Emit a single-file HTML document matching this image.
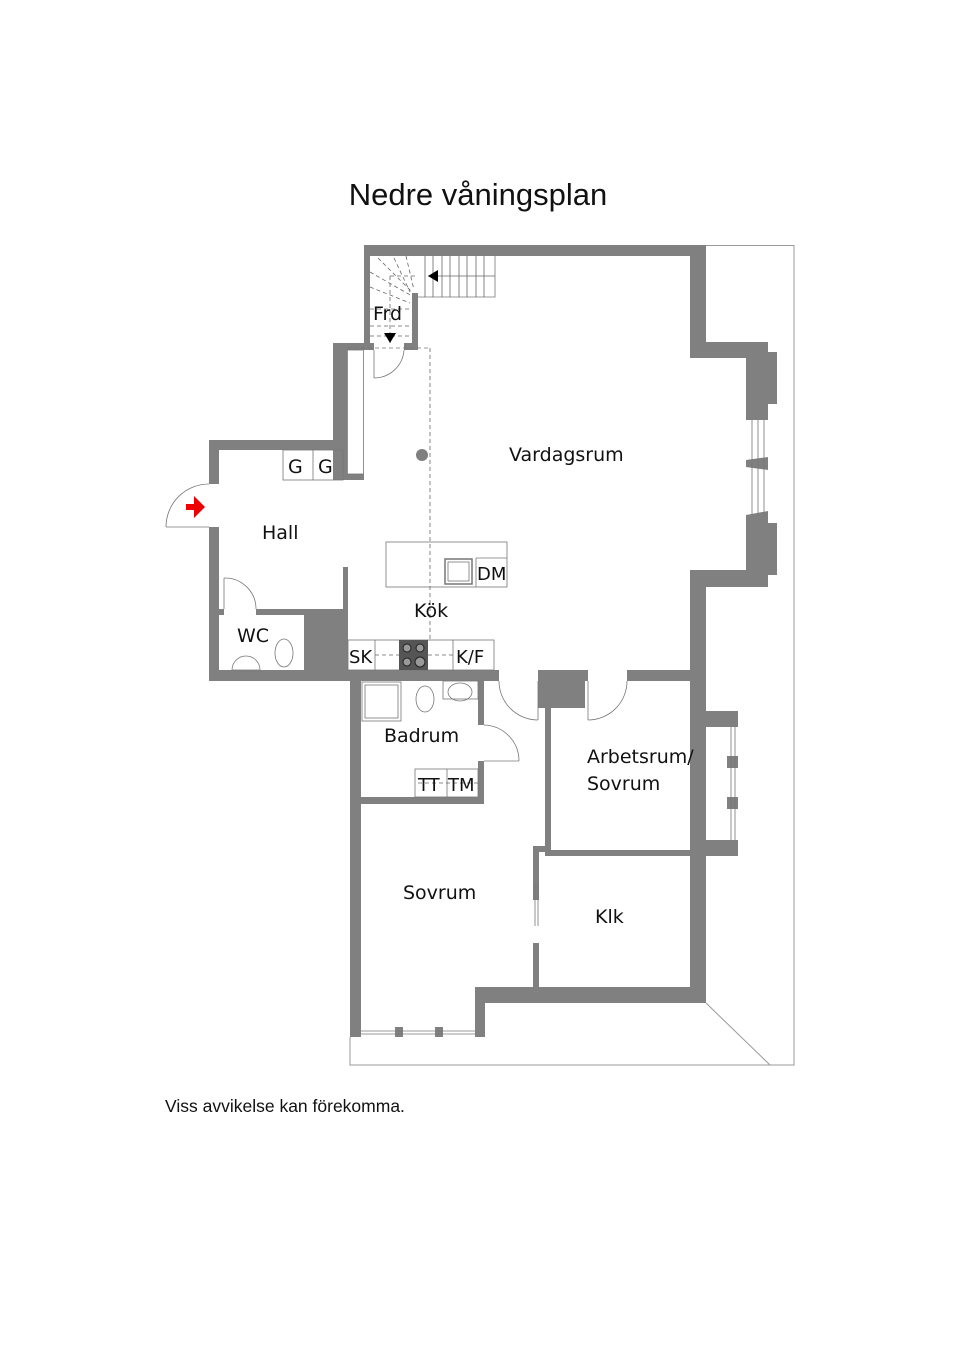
<!DOCTYPE html>
<html><head><meta charset="utf-8"><style>
html,body{margin:0;padding:0;background:#fff;}
svg{display:block;}
text{font-family:"DejaVu Sans","Liberation Sans",sans-serif;fill:#111;}
</style></head><body>
<svg width="960" height="1359" viewBox="0 0 960 1359" xmlns="http://www.w3.org/2000/svg">
<rect width="960" height="1359" fill="#fff"/>
<text x="478" y="205" font-size="31" text-anchor="middle" style="font-family:'Liberation Sans',sans-serif">Nedre våningsplan</text>

<g fill="none" stroke="#999" stroke-width="1">
<polyline points="706,245.5 794,245.5 794,1065 350,1065 350,1037"/>
<line x1="706" y1="1003" x2="770" y2="1065"/>
</g>

<g fill="#808080">
<rect x="364" y="245" width="342" height="11"/>
<rect x="364" y="245" width="6" height="105"/>
<rect x="364" y="343" width="10" height="7"/>
<rect x="404" y="343" width="14" height="7"/>
<rect x="412" y="293" width="6" height="57"/>
<rect x="690" y="245" width="16" height="113"/>
<rect x="690" y="342" width="78" height="16"/>
<rect x="746" y="342" width="22" height="78"/>
<rect x="768" y="352" width="9" height="52"/>
<polygon points="746,460 768,457 768,470 746,467"/>
<polygon points="746,515 768,511 768,587 746,587"/>
<rect x="768" y="523" width="9" height="52"/>
<rect x="690" y="570" width="78" height="17"/>
<rect x="690" y="570" width="16" height="433"/>
<rect x="690" y="711" width="48" height="16"/>
<rect x="690" y="840" width="48" height="16"/>
<rect x="727" y="727" width="11" height="113" fill="#fff"/>
<rect x="727" y="756" width="11" height="12"/>
<rect x="727" y="797" width="11" height="12"/>
<rect x="475" y="987" width="231" height="16"/>
<rect x="475" y="987" width="10" height="50"/>
<rect x="350" y="681" width="11" height="356"/>
<rect x="361" y="1027" width="114" height="10" fill="#fff"/>
<rect x="395" y="1027" width="8" height="10"/>
<rect x="435" y="1027" width="8" height="10"/>
<rect x="209" y="440" width="10" height="44"/>
<rect x="209" y="527" width="10" height="154"/>
<rect x="209" y="440" width="134" height="10"/>
<rect x="333" y="343" width="14" height="137"/>
<rect x="333" y="343" width="39" height="7"/>
<rect x="343" y="474" width="21" height="6"/>
<rect x="343" y="567" width="5" height="113"/>
<rect x="218" y="609" width="6" height="6"/>
<rect x="256" y="609" width="87" height="6"/>
<rect x="304" y="609" width="39" height="61"/>
<rect x="209" y="670" width="290" height="11"/>
<rect x="538" y="670" width="50" height="11"/>
<rect x="538" y="681" width="47" height="27"/>
<rect x="627" y="670" width="63" height="11"/>
<rect x="478" y="681" width="6" height="44"/>
<rect x="478" y="761" width="6" height="43"/>
<rect x="361" y="797" width="123" height="7"/>
<rect x="545" y="681" width="6" height="169"/>
<rect x="545" y="850" width="145" height="6"/>
<rect x="533" y="846" width="18" height="6"/>
<rect x="533" y="846" width="6" height="54"/>
<rect x="533" y="943" width="6" height="44"/>
</g>

<g fill="none" stroke="#777" stroke-width="0.8">
<line x1="752" y1="420" x2="752" y2="515"/><line x1="758" y1="420" x2="758" y2="515"/><line x1="764" y1="420" x2="764" y2="515"/>
<line x1="731" y1="727" x2="731" y2="840"/><line x1="735" y1="727" x2="735" y2="840"/>
<line x1="361" y1="1031" x2="475" y2="1031"/><line x1="361" y1="1034" x2="475" y2="1034"/>
<rect x="347.5" y="350" width="16" height="124"/>
<line x1="209" y1="527" x2="166" y2="527"/>
<path d="M166,527 A43,43 0 0 1 209,484"/>
<line x1="374" y1="350" x2="374" y2="378"/>
<path d="M374,378 A30,30 0 0 0 404,350"/>
<line x1="224" y1="609" x2="224" y2="578"/>
<path d="M224,578 A31,31 0 0 1 256,609"/>
<line x1="538" y1="681" x2="538" y2="720"/>
<path d="M499,681 A39,39 0 0 0 538,720"/>
<line x1="588" y1="681" x2="588" y2="720"/>
<path d="M588,720 A39,39 0 0 0 627,681"/>
<line x1="484" y1="761" x2="519" y2="761"/>
<path d="M484,725 A36,36 0 0 1 519,761"/>
<line x1="535" y1="883" x2="535" y2="926"/><line x1="538" y1="883" x2="538" y2="926"/>
<rect x="283" y="450" width="60" height="30"/><line x1="313" y1="450" x2="313" y2="480"/>
<rect x="386" y="542" width="121" height="45"/>
<line x1="476" y1="558" x2="507" y2="558"/><line x1="476" y1="558" x2="476" y2="587"/>
<rect x="445" y="559" width="27" height="25" stroke-width="1.5"/>
<rect x="448" y="562" width="21" height="19"/>
<rect x="348" y="640" width="146" height="30"/>
<line x1="375" y1="640" x2="375" y2="670"/><line x1="453" y1="640" x2="453" y2="670"/>
<rect x="415" y="769" width="63" height="28"/><line x1="447" y1="769" x2="447" y2="797"/>
<rect x="362" y="682" width="39" height="39"/><rect x="365" y="685" width="33" height="33"/>
<ellipse cx="425" cy="699" rx="9" ry="13"/>
<rect x="443" y="681" width="35" height="18"/><ellipse cx="460" cy="692" rx="12" ry="9"/>
<ellipse cx="284" cy="653" rx="9" ry="14"/>
<path d="M232,670 A14,14 0 0 1 260,670 Z"/>
<polyline points="418,297 495,297 495,256"/>
<g stroke="#666">
<line x1="425" y1="256" x2="425" y2="297"/><line x1="433" y1="256" x2="433" y2="297"/><line x1="442" y1="256" x2="442" y2="297"/><line x1="450" y1="256" x2="450" y2="297"/><line x1="459" y1="256" x2="459" y2="297"/><line x1="467" y1="256" x2="467" y2="297"/><line x1="476" y1="256" x2="476" y2="297"/><line x1="484" y1="256" x2="484" y2="297"/>
<line x1="428" y1="276" x2="495" y2="276"/>
</g>
<g stroke-dasharray="4,3" stroke="#666">
<line x1="378" y1="258" x2="412" y2="292"/><line x1="370" y1="272" x2="412" y2="296"/><line x1="370" y1="287" x2="410" y2="303"/>
<line x1="394" y1="258" x2="410" y2="292"/><line x1="406" y1="256" x2="414" y2="290"/>
<line x1="370" y1="309" x2="412" y2="309"/><line x1="370" y1="326" x2="412" y2="326"/><line x1="370" y1="336" x2="412" y2="336"/>
<line x1="390" y1="276" x2="390" y2="343"/><line x1="390" y1="276" x2="418" y2="276"/>
<line x1="430" y1="348" x2="430" y2="640"/>
<line x1="375" y1="655" x2="399" y2="655"/><line x1="428" y1="655" x2="453" y2="655"/>
<line x1="418" y1="783" x2="478" y2="783"/>
</g>
</g>
<line x1="347" y1="348" x2="430" y2="348" stroke="#777" stroke-dasharray="4,3" stroke-width="0.8"/>
<polygon points="428,276 438,270 438,282" fill="#000"/>
<polygon points="384,333 396,333 390,343" fill="#000"/>
<circle cx="422" cy="455" r="6" fill="#808080"/>
<rect x="399" y="640" width="29" height="30" fill="#555"/>
<g fill="#999" stroke="#222" stroke-width="1"><circle cx="407" cy="648" r="4"/><circle cx="420" cy="648" r="4"/><circle cx="407" cy="662" r="4"/><circle cx="420" cy="662" r="5"/></g>
<polygon points="186,504 194,504 194,496 205,507 194,518 194,510 186,510" fill="#e00"/>

<g font-size="19">
<text x="373" y="320">Frd</text>
<text x="509" y="461">Vardagsrum</text>
<text x="262" y="539">Hall</text>
<text x="288" y="473">G</text>
<text x="318" y="473">G</text>
<text x="477" y="580" font-size="18">DM</text>
<text x="414" y="617">Kök</text>
<text x="237" y="642">WC</text>
<text x="349" y="663" font-size="18">SK</text>
<text x="456" y="663" font-size="18">K/F</text>
<text x="384" y="742">Badrum</text>
<text x="418" y="791" font-size="18">TT</text>
<text x="448" y="791" font-size="18">TM</text>
<text x="587" y="763">Arbetsrum/</text>
<text x="587" y="790">Sovrum</text>
<text x="403" y="899">Sovrum</text>
<text x="595" y="923">Klk</text>
</g>
<text x="165" y="1112" font-size="17.5" style="font-family:'Liberation Sans',sans-serif">Viss avvikelse kan förekomma.</text>
</svg>
</body></html>
